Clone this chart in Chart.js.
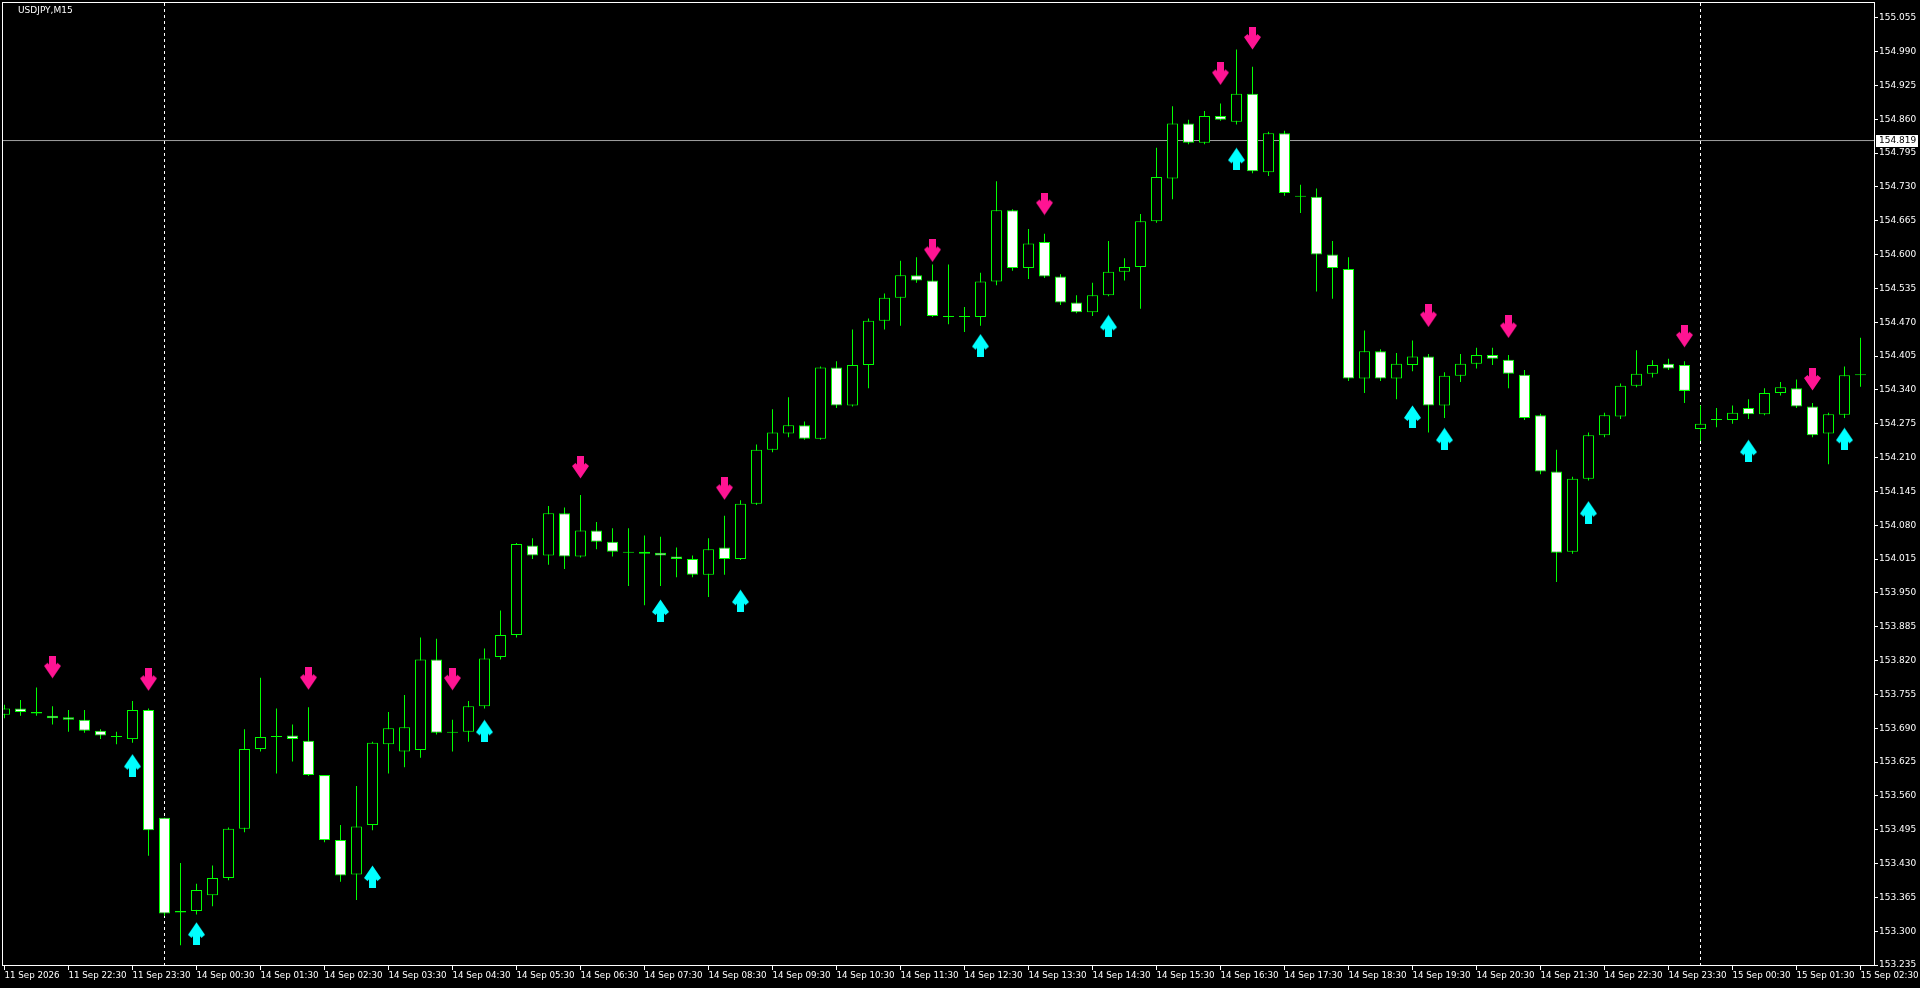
<!DOCTYPE html>
<html><head><meta charset="utf-8">
<script src="https://cdn.jsdelivr.net/npm/chart.js@4.4.1/dist/chart.umd.min.js"></script>
<style>html,body{margin:0;padding:0;background:#000;overflow:hidden}canvas{display:block}</style>
</head><body>
<canvas id="c" width="1920" height="988"></canvas>
<script>
const symbolLabel = 'USDJPY,M15';
const timeLabels = ['11 Sep 2026','11 Sep 22:30','11 Sep 23:30','14 Sep 00:30','14 Sep 01:30','14 Sep 02:30','14 Sep 03:30','14 Sep 04:30','14 Sep 05:30','14 Sep 06:30','14 Sep 07:30','14 Sep 08:30','14 Sep 09:30','14 Sep 10:30','14 Sep 11:30','14 Sep 12:30','14 Sep 13:30','14 Sep 14:30','14 Sep 15:30','14 Sep 16:30','14 Sep 17:30','14 Sep 18:30','14 Sep 19:30','14 Sep 20:30','14 Sep 21:30','14 Sep 22:30','14 Sep 23:30','15 Sep 00:30','15 Sep 01:30','15 Sep 02:30'];
const yTickLabels = ['153.235','153.300','153.365','153.430','153.495','153.560','153.625','153.690','153.755','153.820','153.885','153.950','154.015','154.080','154.145','154.210','154.275','154.340','154.405','154.470','154.535','154.600','154.665','154.730','154.795','154.860','154.925','154.990','155.055'];

const openP = [153.716,153.728,153.721,153.714,153.711,153.706,153.685,153.673,153.669,153.725,
153.518,153.339,153.339,153.369,153.402,153.497,153.650,153.673,153.676,153.666,
153.600,153.475,153.409,153.504,153.659,153.645,153.648,153.822,153.681,153.683,
153.732,153.827,153.869,154.041,154.022,154.103,154.020,154.070,154.048,154.027,
154.025,154.027,154.020,154.015,153.985,154.037,154.015,154.121,154.225,154.256,
154.272,154.246,154.383,154.310,154.388,154.473,154.517,154.560,154.550,154.482,
154.480,154.480,154.548,154.685,154.574,154.624,154.558,154.508,154.489,154.522,
154.567,154.576,154.664,154.746,154.852,154.815,154.866,154.855,154.909,154.758,
154.833,154.711,154.711,154.600,154.572,154.362,154.414,154.362,154.388,154.404,
154.310,154.367,154.390,154.407,154.398,154.369,154.291,154.183,154.029,154.169,
154.253,154.289,154.348,154.371,154.390,154.388,154.265,154.282,154.282,154.305,
154.293,154.334,154.343,154.308,154.256,154.292,154.368];
const highP = [153.735,153.744,153.768,153.732,153.725,153.725,153.688,153.683,153.742,153.728,
153.518,153.431,153.391,153.426,153.499,153.688,153.787,153.728,153.697,153.730,
153.600,153.504,153.579,153.664,153.721,153.754,153.864,153.862,153.706,153.742,
153.843,153.916,154.046,154.055,154.117,154.114,154.138,154.086,154.074,154.074,
154.060,154.058,154.037,154.022,154.055,154.098,154.128,154.235,154.303,154.326,
154.279,154.385,154.395,154.456,154.477,154.525,154.588,154.595,154.581,154.581,
154.499,154.565,154.741,154.687,154.649,154.640,154.562,154.522,154.546,154.626,
154.593,154.678,154.805,154.885,154.859,154.876,154.890,154.994,154.961,154.836,
154.838,154.734,154.727,154.626,154.595,154.454,154.418,154.411,154.435,154.409,
154.374,154.409,154.421,154.421,154.407,154.378,154.294,154.225,154.173,154.258,
154.296,154.352,154.416,154.397,154.400,154.395,154.310,154.305,154.310,154.322,
154.343,154.355,154.360,154.315,154.296,154.385,154.440];
const lowP = [153.709,153.714,153.714,153.697,153.683,153.681,153.669,153.659,153.662,153.445,
153.329,153.273,153.332,153.348,153.398,153.490,153.645,153.603,153.626,153.598,
153.471,153.395,153.360,153.494,153.603,153.615,153.633,153.678,153.645,153.664,
153.728,153.822,153.864,154.015,154.004,153.996,154.018,154.034,154.020,153.963,
153.926,153.963,153.980,153.980,153.942,153.985,154.013,154.119,154.220,154.249,
154.244,154.244,154.305,154.308,154.343,154.456,154.463,154.546,154.480,154.466,
154.451,154.463,154.541,154.569,154.553,154.555,154.503,154.487,154.482,154.520,
154.550,154.496,154.661,154.706,154.812,154.812,154.857,154.850,154.756,154.751,
154.713,154.680,154.529,154.515,154.357,154.334,154.357,154.322,154.376,154.258,
154.286,154.355,154.381,154.388,154.343,154.282,154.178,153.971,154.025,154.166,
154.249,154.284,154.345,154.364,154.378,154.315,154.242,154.268,154.275,154.284,
154.291,154.329,154.305,154.249,154.197,154.286,154.346];
const closeP = [153.728,153.721,153.718,153.709,153.706,153.685,153.676,153.673,153.725,153.494,
153.334,153.336,153.379,153.402,153.497,153.650,153.673,153.673,153.669,153.600,
153.475,153.407,153.501,153.662,153.690,153.692,153.822,153.681,153.681,153.732,
153.824,153.869,154.044,154.022,154.103,154.020,154.070,154.048,154.029,154.027,
154.029,154.022,154.015,153.985,154.034,154.015,154.121,154.225,154.258,154.272,
154.246,154.383,154.310,154.388,154.473,154.517,154.560,154.550,154.482,154.480,
154.480,154.548,154.685,154.574,154.621,154.558,154.508,154.489,154.522,154.567,
154.576,154.664,154.749,154.852,154.815,154.866,154.859,154.909,154.760,154.833,
154.718,154.711,154.600,154.574,154.362,154.414,154.362,154.390,154.404,154.310,
154.367,154.390,154.407,154.400,154.371,154.286,154.183,154.027,154.169,154.253,
154.291,154.348,154.371,154.388,154.381,154.338,154.275,154.282,154.296,154.293,
154.334,154.345,154.308,154.253,154.293,154.368,154.368];

const downArrowBars = [3, 9, 19, 28, 36, 45, 58, 65, 76, 78, 89, 94, 105, 113];
const downArrowPrices = [153.807, 153.783, 153.785, 153.784, 154.191, 154.150, 154.607, 154.697, 154.947, 155.015, 154.482, 154.461, 154.443, 154.360];
const upArrowBars = [8, 12, 23, 30, 41, 46, 61, 69, 77, 88, 90, 99, 109, 115];
const upArrowPrices = [153.619, 153.296, 153.405, 153.685, 153.916, 153.935, 154.426, 154.463, 154.784, 154.289, 154.246, 154.105, 154.223, 154.246];

const bidPrice = 154.819;
const bidLabel = '154.819';
const separatorBars = [10, 106];

const FONT = "'DejaVu Sans', 'Liberation Sans', sans-serif";
const FS_Y = 9;
const FS_X = 8.7;
const X_MIN = -0.15625, X_MAX = 116.84375;
const Y_MIN = 153.2331, Y_MAX = 155.0852;

function makeArrow(color, down) {
  const c = document.createElement('canvas');
  c.width = 17; c.height = 23;
  const g = c.getContext('2d');
  if (!down) { g.translate(0, 23); g.scale(1, -1); }
  g.fillStyle = color;
  g.fillRect(5, 0, 7, 14);
  g.beginPath();
  g.moveTo(0, 10); g.lineTo(3.5, 7); g.lineTo(8.5, 12.5); g.lineTo(13.5, 7); g.lineTo(17, 10); g.lineTo(8.5, 22.5);
  g.closePath(); g.fill();
  return c;
}
const downImg = makeArrow('#ff1493', true);
const upImg = makeArrow('#00ffff', false);

const bodyData = openP.map((o, i) => ({x: i, y: [o, closeP[i]]}));
const wickData = openP.map((o, i) => ({x: i, y: [lowP[i], highP[i]]}));
const bodyColors = openP.map((o, i) => closeP[i] > o ? '#000000' : (closeP[i] < o ? '#ffffff' : '#00ff00'));

const datasets = [
  {type: 'scatter', data: downArrowBars.map((b, k) => ({x: b, y: downArrowPrices[k]})), pointStyle: downImg, pointRadius: 10, order: 0},
  {type: 'scatter', data: upArrowBars.map((b, k) => ({x: b, y: upArrowPrices[k]})), pointStyle: upImg, pointRadius: 10, order: 0},
  {type: 'bar', data: bodyData, backgroundColor: bodyColors, borderColor: '#00ff00', borderWidth: 1, borderSkipped: false, barThickness: 11, grouped: false, minBarLength: 1, inflateAmount: 0, order: 1},
  {type: 'bar', data: wickData, backgroundColor: '#00ff00', borderWidth: 0, barThickness: 1, grouped: false, minBarLength: 1, inflateAmount: 0, order: 2},
  {type: 'line', data: [{x: X_MIN, y: bidPrice}, {x: X_MAX, y: bidPrice}], borderColor: '#a0a0a0', borderWidth: 1, pointRadius: 0, order: 3}
];
separatorBars.forEach(b => datasets.push({type: 'line', data: [{x: b, y: Y_MIN}, {x: b, y: Y_MAX}], borderColor: '#ffffff', borderDash: [3, 3], borderWidth: 1, pointRadius: 0, order: 3}));

const mtPlugin = {
  id: 'mt',
  beforeDraw(chart) {
    const ctx = chart.ctx;
    ctx.save(); ctx.fillStyle = '#000'; ctx.fillRect(0, 0, chart.width, chart.height); ctx.restore();
  },
  afterDraw(chart) {
    const ctx = chart.ctx;
    const a = chart.chartArea;
    ctx.save();
    ctx.strokeStyle = '#ffffff'; ctx.lineWidth = 1;
    ctx.strokeRect(a.left + 0.5, a.top + 0.5, a.right - a.left, a.bottom - a.top - 1);
    ctx.font = FS_Y + 'px ' + FONT;
    ctx.fillStyle = '#ffffff'; ctx.textBaseline = 'middle'; ctx.textAlign = 'left';
    ctx.fillText(symbolLabel, 18, 11);
    const y = chart.scales.y.getPixelForValue(bidPrice);
    ctx.fillStyle = '#ffffff';
    ctx.fillRect(a.right + 2, Math.round(y) - 6, 42, 12);
    ctx.fillStyle = '#000000';
    ctx.fillText(bidLabel, a.right + 5, Math.round(y));
    ctx.restore();
  }
};

new Chart(document.getElementById('c'), {
  type: 'bar',
  data: {datasets},
  plugins: [mtPlugin],
  options: {
    responsive: false, animation: false, devicePixelRatio: 1,
    layout: {autoPadding: false, padding: {left: 2, top: 2, right: 0, bottom: 0}},
    plugins: {legend: {display: false}, tooltip: {enabled: false}},
    scales: {
      x: {
        type: 'linear', min: X_MIN, max: X_MAX, offset: false,
        grid: {display: true, drawOnChartArea: false, drawTicks: true, tickLength: 4, color: '#ffffff', offset: false},
        border: {display: false},
        afterBuildTicks: s => { s.ticks = timeLabels.map((t, k) => ({value: k * 4})); },
        afterFit: s => { s.height = 22; s.paddingLeft = 0; s.paddingRight = 0; s.paddingTop = 0; s.paddingBottom = 0; },
        ticks: {autoSkip: false, maxRotation: 0, minRotation: 0, align: 'start', labelOffset: 0, padding: 1, color: '#ffffff', font: {family: FONT, size: FS_X},
          callback: (v, i) => timeLabels[i]}
      },
      y: {
        type: 'linear', position: 'right', min: Y_MIN, max: Y_MAX,
        grid: {display: true, drawOnChartArea: false, drawTicks: true, tickLength: 4, color: '#ffffff'},
        border: {display: false},
        afterBuildTicks: s => { s.ticks = yTickLabels.map(v => ({value: parseFloat(v)})); },
        afterFit: s => { s.width = 46; s.paddingLeft = 0; s.paddingRight = 0; s.paddingTop = 0; s.paddingBottom = 0; },
        ticks: {autoSkip: false, padding: 1, color: '#ffffff', font: {family: FONT, size: FS_Y},
          callback: (v, i) => yTickLabels[i]}
      }
    }
  }
});
</script>
</body></html>
